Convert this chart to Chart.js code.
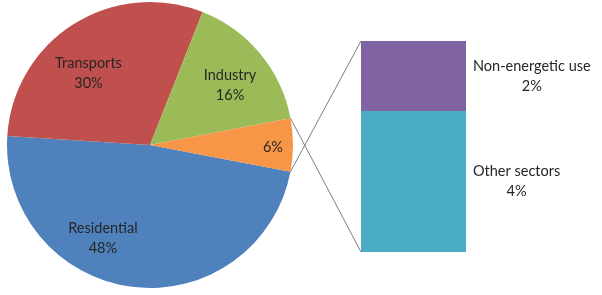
<!DOCTYPE html>
<html>
<head>
<meta charset="utf-8">
<script src="https://cdn.jsdelivr.net/npm/chart.js@4/dist/chart.umd.min.js"></script>
<style>
    html, body { margin: 0; padding: 0; background: #ffffff; }
    #wrap { position: relative; width: 602px; height: 295px; }
    #wrap canvas { position: absolute; left: 0; top: 0; }
</style>
</head>
<body>
<div id="wrap">
    <canvas id="pie-chart" width="602" height="295"></canvas>
    <canvas id="bar-chart" width="602" height="295"></canvas>
</div>
<script>
// *** DATA ***
var pieLabels = ['Residential', 'Transports', 'Industry', ''];
var pieValues = [48, 30, 16, 6];
var pieColors = ['#4F81BD', '#C0504D', '#9BBB59', '#F79646'];

var barLabels = ['Other sectors', 'Non-energetic use'];
var barValues = [4, 2];
var barColors = ['#4BACC6', '#8064A2'];

// where each pie label sits: fraction of radius, angle shift (deg) from slice middle
var pieLabelPos = [
    { r: 0.73, shift: 19.6 },
    { r: 0.66, shift: -8.3 },
    { r: 0.70, shift: 2.7 },
    { r: 0.86, shift: 1 }
];

var fontFamily = 'Lato, "Open Sans", sans-serif';
var fontSize = 14.5;
var lineHeight = 20;
var textColor = '#262626';

var sum = function(array) {
    return array.reduce(function(a, b) { return a + b; }, 0);
};
var total = sum(pieValues);

// *** PIE ***
var pieLabelPlugin = {
    id: 'pieLabels',
    afterDatasetsDraw: function(chart) {
        var ctx = chart.ctx;
        var arcs = chart.getDatasetMeta(0).data;
        ctx.save();
        ctx.font = fontSize + 'px ' + fontFamily;
        ctx.fillStyle = textColor;
        ctx.textAlign = 'center';
        ctx.textBaseline = 'middle';
        arcs.forEach(function(arc, i) {
            var mid = (arc.startAngle + arc.endAngle) / 2 + pieLabelPos[i].shift * Math.PI / 180;
            var rr = arc.outerRadius * pieLabelPos[i].r;
            var x = arc.x + Math.cos(mid) * rr;
            var y = arc.y + Math.sin(mid) * rr;
            var pct = Math.round(pieValues[i] / total * 100) + '%';
            if (pieLabels[i] !== '') {
                ctx.fillText(pieLabels[i], x, y - lineHeight / 2);
                ctx.fillText(pct, x, y + lineHeight / 2);
            } else {
                ctx.fillText(pct, x, y);
            }
        });
        ctx.restore();
    }
};

var pieChart = new Chart(document.getElementById('pie-chart'), {
    type: 'pie',
    data: {
        labels: pieLabels,
        datasets: [{
            data: pieValues,
            backgroundColor: pieColors,
            borderWidth: 0
        }]
    },
    options: {
        responsive: false,
        animation: false,
        rotation: 90 + (pieValues[3] / total) * 180, // "other" slice centred on the right
        layout: { padding: { left: 7, right: 309, top: 2, bottom: 7 } },
        plugins: { legend: { display: false }, tooltip: { enabled: false } }
    },
    plugins: [pieLabelPlugin]
});

// *** BAR ***
var barExtrasPlugin = {
    id: 'barExtras',
    afterDatasetsDraw: function(chart) {
        var ctx = chart.ctx;
        var bottomBar = chart.getDatasetMeta(0).data[0];
        var topBar = chart.getDatasetMeta(1).data[0];
        var left = bottomBar.x - bottomBar.width / 2;
        var right = bottomBar.x + bottomBar.width / 2;

        // connector lines from the small slice to the bar
        var arc = pieChart.getDatasetMeta(0).data[3];
        var p1 = { x: arc.x + Math.cos(arc.endAngle) * arc.outerRadius, y: arc.y + Math.sin(arc.endAngle) * arc.outerRadius };
        var p2 = { x: arc.x + Math.cos(arc.startAngle) * arc.outerRadius, y: arc.y + Math.sin(arc.startAngle) * arc.outerRadius };
        ctx.save();
        ctx.strokeStyle = '#7f7f7f';
        ctx.lineWidth = 1;
        ctx.beginPath();
        ctx.moveTo(p1.x, p1.y);
        ctx.lineTo(left, topBar.y);
        ctx.moveTo(p2.x, p2.y);
        ctx.lineTo(left, bottomBar.base);
        ctx.stroke();

        // labels right of the bar
        ctx.font = fontSize + 'px ' + fontFamily;
        ctx.fillStyle = textColor;
        ctx.textBaseline = 'middle';
        ctx.textAlign = 'center';
        [bottomBar, topBar].forEach(function(el, i) {
            var cy = (el.y + el.base) / 2;
            var w = ctx.measureText(barLabels[i]).width;
            var cx = right + 7 + w / 2;
            var pct = Math.round(barValues[i] / total * 100) + '%';
            ctx.fillText(barLabels[i], cx, cy - lineHeight / 2);
            ctx.fillText(pct, cx, cy + lineHeight / 2);
        });
        ctx.restore();
    }
};

var barChart = new Chart(document.getElementById('bar-chart'), {
    type: 'bar',
    data: {
        labels: [''],
        datasets: barValues.map(function(v, i) {
            return {
                label: barLabels[i],
                data: [v],
                backgroundColor: barColors[i],
                borderWidth: 0,
                barPercentage: 1,
                categoryPercentage: 1
            };
        })
    },
    options: {
        responsive: false,
        animation: false,
        layout: { padding: { left: 361, right: 136, top: 41, bottom: 43 } },
        scales: {
            x: { stacked: true, display: false },
            y: { stacked: true, display: false, min: 0, max: sum(barValues) }
        },
        plugins: { legend: { display: false }, tooltip: { enabled: false } }
    },
    plugins: [barExtrasPlugin]
});
</script>
</body>
</html>
